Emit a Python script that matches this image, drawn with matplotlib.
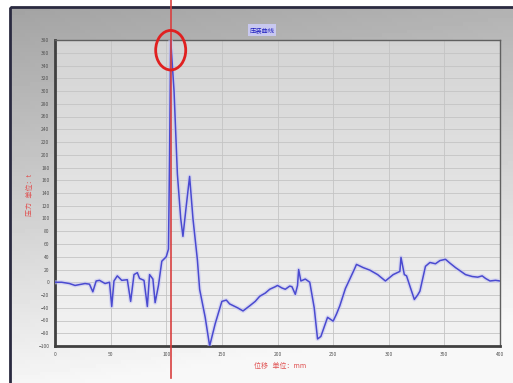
import numpy as np
import matplotlib.pyplot as plt
from matplotlib.patches import Ellipse, Rectangle

plt.rcParams['font.family'] = ['Noto Sans CJK SC', 'DejaVu Sans']

# displacement (x) and force (y)
disp = [0, 6, 13, 18, 27, 31, 34, 37, 40, 45, 49, 51, 53, 56, 60, 65, 68, 71,
        74, 76, 80, 83, 85, 88, 90, 93, 96, 100, 102, 103, 104, 107, 110, 113,
        115, 118, 121, 124, 128, 130, 135, 139, 144, 150, 154, 157, 164, 169,
        175, 180, 184, 189, 193, 198, 200, 204, 207, 211, 213, 216, 218, 219,
        221, 225, 229, 233, 236, 239, 243, 245, 250, 253, 256, 261, 265, 269,
        271, 277, 283, 290, 297, 304, 310, 311, 314, 316, 319, 323, 326, 328,
        333, 337, 342, 346, 351, 355, 360, 369, 375, 380, 384, 387, 391, 396,
        400]
force = [0, 0, -2, -5, -2, -3, -15, 2, 3, -2, 0, -38, 2, 10, 3, 4, -30, 12,
         15, 6, 3, -38, 12, 5, -32, -5, 33, 40, 52, 200, 380, 300, 170, 100,
         72, 120, 166, 100, 35, -11, -55, -100, -65, -30, -28, -34, -40, -45,
         -37, -30, -22, -17, -11, -7, -5, -9, -11, -6, -7, -19, -5, 20,
         2, 5, 0, -40, -89, -85, -65, -55, -61, -50, -37, -10, 5, 20,
         28, 23, 19, 12, 2, 12, 17, 39, 12, 10, -6, -27, -20, -14,
         25, 31, 29, 34, 36, 30, 23, 12, 9, 8, 10, 6, 2, 3,
         2]

marker_x = 104
peak_y = 364

fig = plt.figure(figsize=(5.13, 3.83), dpi=100)

# panel background with grey gradient
bg = fig.add_axes([0, 0, 1, 1])
bg.set_xlim(0, 513)
bg.set_ylim(383, 0)
bg.axis('off')
gx, gy = np.meshgrid(np.linspace(0, 1, 100), np.linspace(0, 1, 100))
shade = 0.64 + 0.32 * gy + 0.06 * gx
shade = np.clip(shade, 0, 0.97)
bg.imshow(shade, cmap='gray', vmin=0, vmax=1, extent=[10, 513, 383, 7],
          aspect='auto', zorder=0)
bg.add_patch(Rectangle((10, 7), 510, 390, fill=False, edgecolor='#2a2a40',
                       lw=2.0, zorder=1))

ax = fig.add_axes([55 / 513, 37 / 383, 445 / 513, 306 / 383])
ax.set_xlim(0, 400)
ax.set_ylim(-100, 380)
pg = np.linspace(0.83, 0.95, 100).reshape(-1, 1)
ax.imshow(pg, cmap='gray', vmin=0, vmax=1, extent=[0, 400, -100, 380],
          aspect='auto', zorder=0, origin='upper')

ax.set_xticks(range(0, 401, 50))
ax.set_yticks(range(-100, 381, 20))
ax.grid(True, color='#c4c4c4', lw=0.6)
ax.set_axisbelow(True)
ax.tick_params(labelsize=3.5, colors='#505050', length=0, pad=4)
for side in ['left', 'bottom']:
    ax.spines[side].set_linewidth(2)
    ax.spines[side].set_color('#404040')
for side in ['top', 'right']:
    ax.spines[side].set_linewidth(1)
    ax.spines[side].set_color('#606060')

ax.plot(disp, force, color='#c8c8f0', lw=3, alpha=0.6, zorder=3)
ax.plot(disp, force, color='#4a4ad0', lw=1.1, zorder=4)

ax.axvline(marker_x, ymin=-0.105, ymax=1.14, color='#d84040', lw=1.2,
           clip_on=False, zorder=5)
ax.add_patch(Ellipse((marker_x, peak_y), 27, 62, fill=False,
                     edgecolor='#e02020', lw=2, clip_on=False, zorder=6))

fig.text(262 / 513, 1 - 30 / 383, '压装曲线', color='#2020c0', fontsize=4.5,
         ha='center', va='center',
         bbox=dict(boxstyle='square,pad=0.3', fc='#c8c8f0', ec='none'))
fig.text(30 / 513, 1 - 195 / 383, '压力   单位：t', color='#e05050',
         fontsize=5, rotation=90, ha='center', va='center')
fig.text(280 / 513, 1 - 366 / 383, '位移   单位：mm', color='#e05050',
         fontsize=5, ha='center', va='center')

fig.savefig('out.png', dpi=100)
